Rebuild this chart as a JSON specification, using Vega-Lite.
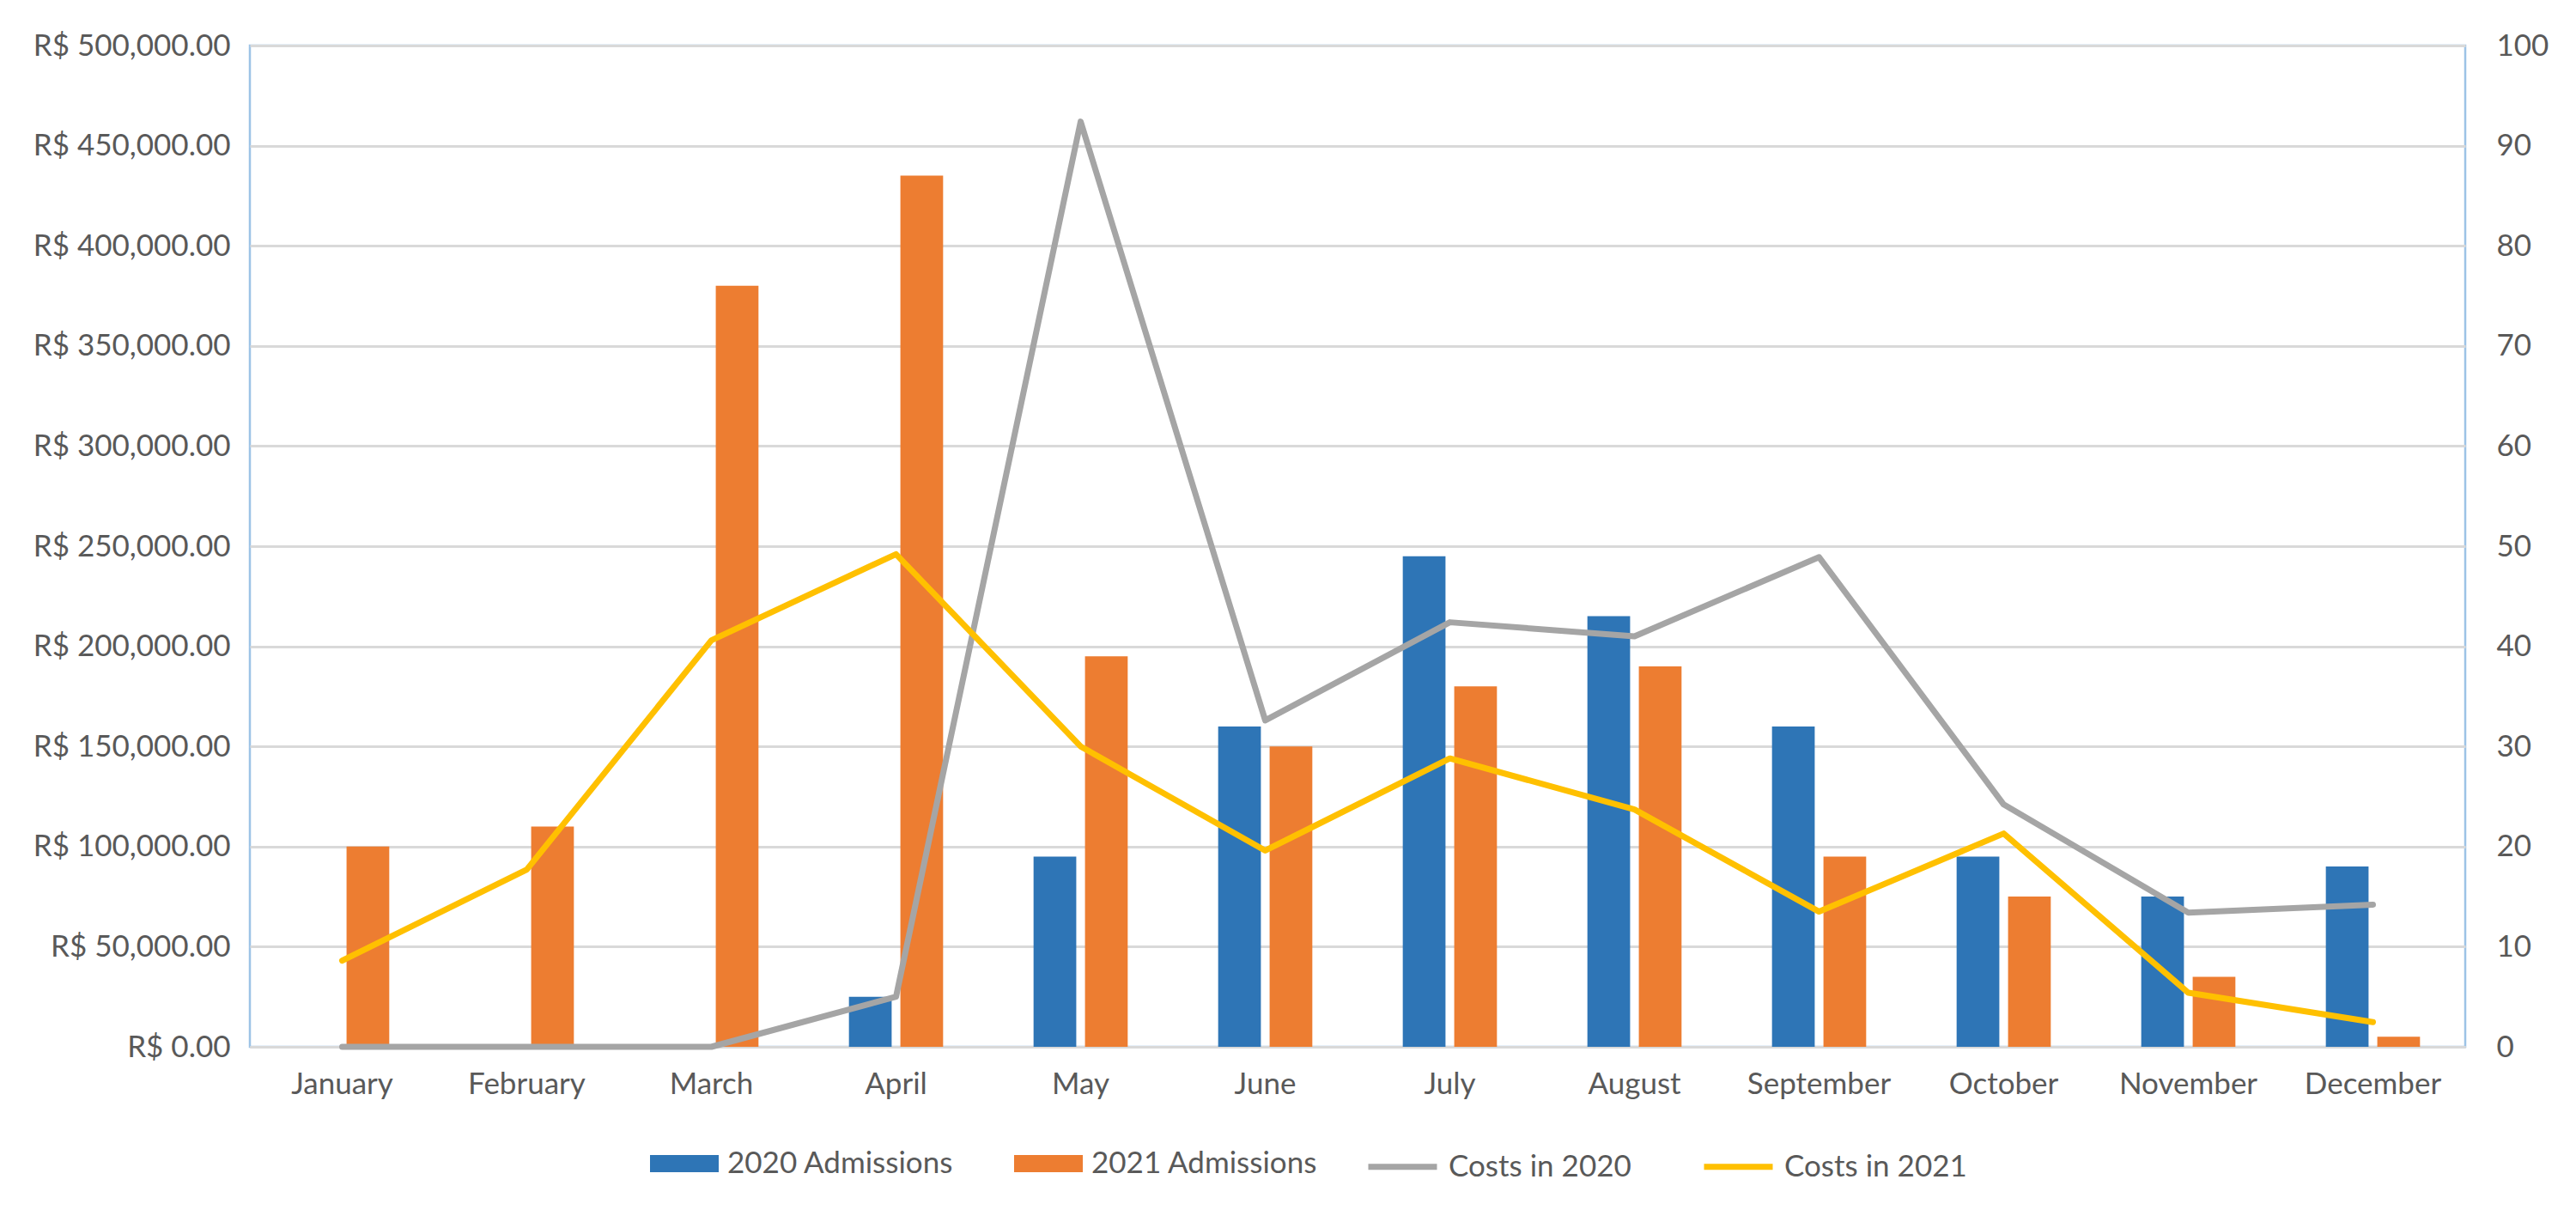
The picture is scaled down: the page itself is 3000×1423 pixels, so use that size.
{
  "$schema": "https://vega.github.io/schema/vega-lite/v6.json",
  "width": 2580,
  "height": 1166,
  "autosize": {"type": "none"},
  "padding": {"left": 291, "top": 53, "right": 129, "bottom": 204},
  "background": "white",
  "config": {
    "font": "Lato",
    "view": {"stroke": "#9DC3E6", "strokeWidth": 2.5},
    "axis": {
      "labelFont": "Lato",
      "labelColor": "#595959",
      "labelFontSize": 35,
      "labelLimit": 1000,
      "ticks": false,
      "domain": false,
      "grid": false,
      "title": null
    },
    "legend": {
      "labelFont": "Lato",
      "labelColor": "#595959",
      "labelFontSize": 35,
      "labelLimit": 1000,
      "title": null
    }
  },
  "datasets": {
    "admissions": [
      {"month": "January", "series": "2020 Admissions", "count": 0},
      {"month": "January", "series": "2021 Admissions", "count": 20},
      {"month": "February", "series": "2020 Admissions", "count": 0},
      {"month": "February", "series": "2021 Admissions", "count": 22},
      {"month": "March", "series": "2020 Admissions", "count": 0},
      {"month": "March", "series": "2021 Admissions", "count": 76},
      {"month": "April", "series": "2020 Admissions", "count": 5},
      {"month": "April", "series": "2021 Admissions", "count": 87},
      {"month": "May", "series": "2020 Admissions", "count": 19},
      {"month": "May", "series": "2021 Admissions", "count": 39},
      {"month": "June", "series": "2020 Admissions", "count": 32},
      {"month": "June", "series": "2021 Admissions", "count": 30},
      {"month": "July", "series": "2020 Admissions", "count": 49},
      {"month": "July", "series": "2021 Admissions", "count": 36},
      {"month": "August", "series": "2020 Admissions", "count": 43},
      {"month": "August", "series": "2021 Admissions", "count": 38},
      {"month": "September", "series": "2020 Admissions", "count": 32},
      {"month": "September", "series": "2021 Admissions", "count": 19},
      {"month": "October", "series": "2020 Admissions", "count": 19},
      {"month": "October", "series": "2021 Admissions", "count": 15},
      {"month": "November", "series": "2020 Admissions", "count": 15},
      {"month": "November", "series": "2021 Admissions", "count": 7},
      {"month": "December", "series": "2020 Admissions", "count": 18},
      {"month": "December", "series": "2021 Admissions", "count": 1}
    ],
    "costs": [
      {"month": "January", "series": "Costs in 2020", "cost": 0},
      {"month": "February", "series": "Costs in 2020", "cost": 0},
      {"month": "March", "series": "Costs in 2020", "cost": 0},
      {"month": "April", "series": "Costs in 2020", "cost": 25000},
      {"month": "May", "series": "Costs in 2020", "cost": 462000},
      {"month": "June", "series": "Costs in 2020", "cost": 163000},
      {"month": "July", "series": "Costs in 2020", "cost": 212000},
      {"month": "August", "series": "Costs in 2020", "cost": 205000},
      {"month": "September", "series": "Costs in 2020", "cost": 244500},
      {"month": "October", "series": "Costs in 2020", "cost": 121000},
      {"month": "November", "series": "Costs in 2020", "cost": 67000},
      {"month": "December", "series": "Costs in 2020", "cost": 71000},
      {"month": "January", "series": "Costs in 2021", "cost": 43000},
      {"month": "February", "series": "Costs in 2021", "cost": 88500},
      {"month": "March", "series": "Costs in 2021", "cost": 203000},
      {"month": "April", "series": "Costs in 2021", "cost": 246000},
      {"month": "May", "series": "Costs in 2021", "cost": 150000},
      {"month": "June", "series": "Costs in 2021", "cost": 98000},
      {"month": "July", "series": "Costs in 2021", "cost": 144000},
      {"month": "August", "series": "Costs in 2021", "cost": 118500},
      {"month": "September", "series": "Costs in 2021", "cost": 67500},
      {"month": "October", "series": "Costs in 2021", "cost": 106500},
      {"month": "November", "series": "Costs in 2021", "cost": 27000},
      {"month": "December", "series": "Costs in 2021", "cost": 12300}
    ]
  },
  "layer": [
    {
      "data": {"name": "admissions"},
      "mark": {"type": "bar"},
      "encoding": {
        "x": {
          "field": "month",
          "type": "nominal",
          "scale": {
            "domain": ["January", "February", "March", "April", "May", "June", "July", "August", "September", "October", "November", "December"],
            "paddingInner": 0.49,
            "paddingOuter": 0.245
          },
          "axis": {
            "labelAngle": 0,
            "labelPadding": 26,
            "domain": true,
            "domainColor": "#D9D9D9",
            "domainWidth": 3
          }
        },
        "xOffset": {
          "field": "series",
          "type": "nominal",
          "scale": {"paddingInner": 0.17, "paddingOuter": 0}
        },
        "y": {
          "field": "count",
          "type": "quantitative",
          "scale": {"domain": [0, 100], "nice": false},
          "axis": {
            "orient": "right",
            "values": [0, 10, 20, 30, 40, 50, 60, 70, 80, 90, 100],
            "labelPadding": 36
          }
        },
        "fill": {
          "field": "series",
          "type": "nominal",
          "scale": {
            "domain": ["2020 Admissions", "2021 Admissions"],
            "range": ["#2E75B6", "#ED7D31"]
          },
          "legend": {
            "orient": "none",
            "direction": "horizontal",
            "legendX": 466,
            "legendY": 1262,
            "symbolType": "M-1,-0.25L1,-0.25L1,0.25L-1,0.25Z",
            "symbolSize": 6400,
            "symbolStrokeWidth": 0,
            "labelOffset": 10,
            "columnPadding": 70
          }
        }
      }
    },
    {
      "data": {"name": "costs"},
      "mark": {"type": "line", "strokeWidth": 7, "strokeJoin": "round", "strokeCap": "round"},
      "encoding": {
        "x": {"field": "month", "type": "nominal"},
        "y": {
          "field": "cost",
          "type": "quantitative",
          "scale": {"domain": [0, 500000], "nice": false},
          "axis": {
            "orient": "left",
            "values": [0, 50000, 100000, 150000, 200000, 250000, 300000, 350000, 400000, 450000, 500000],
            "labelExpr": "'R$ ' + format(datum.value, ',.2f')",
            "labelPadding": 23,
            "grid": true,
            "gridColor": "#D9D9D9",
            "gridWidth": 3
          }
        },
        "stroke": {
          "field": "series",
          "type": "nominal",
          "scale": {
            "domain": ["Costs in 2020", "Costs in 2021"],
            "range": ["#A5A5A5", "#FFC000"]
          },
          "legend": {
            "orient": "none",
            "direction": "horizontal",
            "legendX": 1299,
            "legendY": 1262,
            "symbolType": "stroke",
            "symbolSize": 6400,
            "symbolStrokeWidth": 7,
            "labelOffset": 10,
            "columnPadding": 70
          }
        }
      }
    }
  ],
  "resolve": {"scale": {"y": "independent"}}
}
